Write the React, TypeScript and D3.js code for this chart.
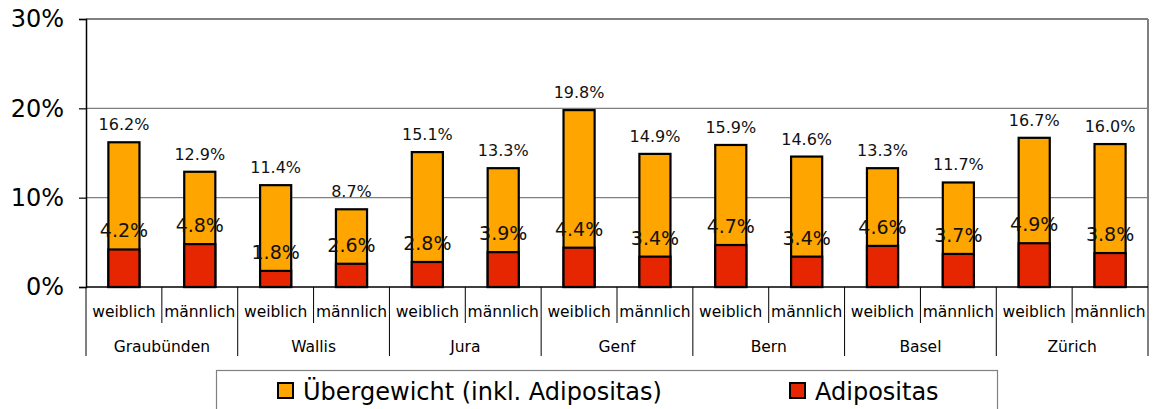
import React, { useEffect, useRef } from 'react';
import * as d3 from 'd3';

const regions = ['Graubünden', 'Wallis', 'Jura', 'Genf', 'Bern', 'Basel', 'Zürich'];
const sexes = ['weiblich', 'männlich'];
// per region: [weiblich, männlich]
const overweight = [16.2, 12.9, 11.4, 8.7, 15.1, 13.3, 19.8, 14.9, 15.9, 14.6, 13.3, 11.7, 16.7, 16.0];
const obesity = [4.2, 4.8, 1.8, 2.6, 2.8, 3.9, 4.4, 3.4, 4.7, 3.4, 4.6, 3.7, 4.9, 3.8];
const yTicks = [0, 10, 20, 30];
const legendLabels = ['Übergewicht (inkl. Adipositas)', 'Adipositas'];

const ORANGE = '#FFA500';
const RED = '#E52600';
const FONT = '"DejaVu Sans", Verdana, sans-serif';

const App: React.FC = () => {
  const ref = useRef<SVGSVGElement | null>(null);
  const width = 1153;
  const height = 409;
  const margin = { top: 19, right: 5, bottom: 122, left: 86 };

  useEffect(() => {
    if (!ref.current) return;
    const svg = d3.select(ref.current);
    svg.selectAll('*').remove();

    const rows = regions.flatMap((r, i) =>
      sexes.map((s, j) => ({
        key: `${r}-${s}`,
        region: r,
        sex: s,
        total: overweight[i * 2 + j],
        adip: obesity[i * 2 + j],
      }))
    );

    const x = d3.scaleBand<string>()
      .domain(rows.map(d => d.key))
      .range([margin.left, width - margin.right])
      .paddingInner(0)
      .paddingOuter(0);

    const y = d3.scaleLinear()
      .domain([0, 30])
      .range([height - margin.bottom, margin.top]);

    const y0 = y(0);
    const bw = x.bandwidth();
    const barW = bw * 0.41;

    // gridlines + plot border
    svg.append('g')
      .selectAll('line')
      .data(yTicks.filter(t => t > 0))
      .join('line')
        .attr('x1', margin.left)
        .attr('x2', width - margin.right)
        .attr('y1', d => y(d))
        .attr('y2', d => y(d))
        .attr('stroke', '#808080')
        .attr('stroke-width', d => (d === 30 ? 2 : 1.2));

    svg.append('line')
      .attr('x1', width - margin.right).attr('x2', width - margin.right)
      .attr('y1', y(30)).attr('y2', y0)
      .attr('stroke', '#808080').attr('stroke-width', 2);

    // y axis
    const yAxis = d3.axisLeft(y)
      .tickValues(yTicks)
      .tickFormat(d => `${d}%`)
      .tickSize(7)
      .tickPadding(15);

    svg.append('g')
      .attr('transform', `translate(${margin.left},0)`)
      .call(yAxis)
      .call(g => g.select('.domain').attr('stroke', '#000').attr('stroke-width', 1.5))
      .call(g => g.selectAll('.tick line').attr('stroke', '#000').attr('stroke-width', 1.2))
      .call(g => g.selectAll('.tick text')
        .attr('fill', '#000')
        .style('font-family', FONT)
        .style('font-size', '24px'));

    // bars
    const bars = svg.append('g')
      .selectAll('g')
      .data(rows)
      .join('g')
        .attr('transform', d => `translate(${x(d.key)! + bw / 2},0)`);

    bars.append('rect')
      .attr('x', -barW / 2)
      .attr('width', barW)
      .attr('y', d => y(d.total))
      .attr('height', d => y0 - y(d.total))
      .attr('fill', ORANGE)
      .attr('stroke', '#000')
      .attr('stroke-width', 2.2);

    bars.append('rect')
      .attr('x', -barW / 2)
      .attr('width', barW)
      .attr('y', d => y(d.adip))
      .attr('height', d => y0 - y(d.adip))
      .attr('fill', RED)
      .attr('stroke', '#000')
      .attr('stroke-width', 2.2);

    bars.append('text')
      .attr('y', d => y(d.total) - 12)
      .attr('text-anchor', 'middle')
      .attr('fill', '#111')
      .style('font-family', FONT)
      .style('font-size', '16px')
      .text(d => `${d.total.toFixed(1)}%`);

    bars.append('text')
      .attr('y', d => y(d.adip) - 12)
      .attr('text-anchor', 'middle')
      .attr('fill', '#111')
      .style('font-family', FONT)
      .style('font-size', '19px')
      .text(d => `${d.adip.toFixed(1)}%`);

    // x axis baseline
    svg.append('line')
      .attr('x1', margin.left).attr('x2', width - margin.right)
      .attr('y1', y0).attr('y2', y0)
      .attr('stroke', '#000').attr('stroke-width', 1.5);

    // category dividers
    const axisG = svg.append('g');
    rows.forEach((d, i) => {
      const xl = x(d.key)!;
      if (i === 0) return;
      const long = i % 2 === 0;
      axisG.append('line')
        .attr('x1', xl).attr('x2', xl)
        .attr('y1', y0).attr('y2', long ? y0 + 69 : y0 + 36)
        .attr('stroke', '#000').attr('stroke-width', 1);
    });
    [margin.left, width - margin.right].forEach(xx => {
      axisG.append('line')
        .attr('x1', xx).attr('x2', xx)
        .attr('y1', y0).attr('y2', y0 + 69)
        .attr('stroke', '#000').attr('stroke-width', 1);
    });

    axisG.selectAll('text.sex')
      .data(rows)
      .join('text')
        .attr('class', 'sex')
        .attr('x', d => x(d.key)! + bw / 2)
        .attr('y', y0 + 30)
        .attr('text-anchor', 'middle')
        .style('font-family', FONT)
        .style('font-size', '15.5px')
        .text(d => d.sex);

    axisG.selectAll('text.region')
      .data(regions)
      .join('text')
        .attr('class', 'region')
        .attr('x', (_, i) => x(`${regions[i]}-${sexes[0]}`)! + bw)
        .attr('y', y0 + 65)
        .attr('text-anchor', 'middle')
        .style('font-family', FONT)
        .style('font-size', '15.5px')
        .text(d => d);

    // legend
    const lg = svg.append('g');
    lg.append('rect')
      .attr('x', 216.5).attr('y', 370.5)
      .attr('width', 781).attr('height', 50)
      .attr('fill', '#fff')
      .attr('stroke', '#808080').attr('stroke-width', 1.2);

    const legendX = [278, 790];
    const legendColors = [ORANGE, RED];
    legendLabels.forEach((lab, i) => {
      lg.append('rect')
        .attr('x', legendX[i]).attr('y', 383)
        .attr('width', 15).attr('height', 15)
        .attr('fill', legendColors[i])
        .attr('stroke', '#000').attr('stroke-width', 2);
      lg.append('text')
        .attr('x', legendX[i] + 25).attr('y', 400)
        .style('font-family', FONT)
        .style('font-size', '24px')
        .text(lab);
    });
  }, []);

  return (
    <svg
      ref={ref}
      width={width}
      height={height}
      style={{ position: 'absolute', left: 0, top: 0, background: '#fff' }}
    />
  );
};

export default App;
